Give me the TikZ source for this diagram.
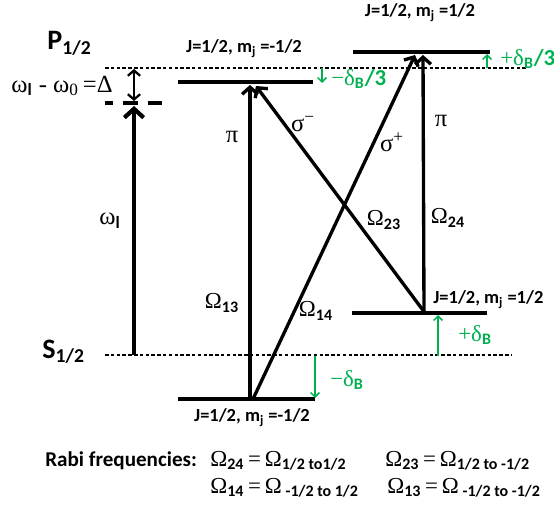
\documentclass[tikz,border=0pt]{standalone}
\usepackage{fontspec}
\setmainfont{Carlito}
\newfontfamily\grk{Liberation Serif}
\usetikzlibrary{arrows.meta}
\definecolor{zeeman}{RGB}{0,176,80}
\newcommand\lsub[1]{\textsubscript{\rmfamily\bfseries #1}}
\tikzset{
  level/.style={line width=2.4pt},
  ref/.style={line width=0.8pt, dash pattern=on 2pt off 1.3pt},
  trans/.style={line width=1.9pt, -{Straight Barb[length=4pt,width=9pt]}},
  zshift/.style={zeeman, line width=0.9pt, -{Straight Barb[length=2.5pt,width=5pt]}},
  lbl/.style={font=\bfseries\fontsize{10.5}{12}\selectfont, inner sep=0pt},
  greek/.style={font=\grk\fontsize{14}{16}\selectfont, inner sep=0pt},
  term/.style={font=\bfseries\fontsize{16}{18}\selectfont, inner sep=0pt, anchor=base west},
  zlbl/.style={greek, font=\grk\fontsize{13}{14}\selectfont, text=zeeman, anchor=west},
  rabi/.style={font=\grk\fontsize{13}{15}\selectfont, inner sep=0pt, anchor=base west},
}
\begin{document}
\begin{tikzpicture}[x=0.02cm, y=-0.02cm]
  \useasboundingbox (0,0) rectangle (554,506);
  % reference lines
  \coordinate (Pl) at (105,68);  \coordinate (Pr) at (528,68);
  \coordinate (Sl) at (105,355); \coordinate (Sr) at (512,355);
  \draw[ref] (Pl) -- (Pr);
  \draw[ref] (Sl) -- (Sr);
  \node[term] (P) at (47,50) {P\textsubscript{1/2}};
  \node[term] (S) at (42,358) {S\textsubscript{1/2}};
  % levels
  \coordinate (P1a) at (178,82);  \coordinate (P1b) at (313,82);
  \coordinate (P2a) at (353,52);  \coordinate (P2b) at (490,52);
  \coordinate (S1a) at (178,399); \coordinate (S1b) at (315,399);
  \coordinate (S2a) at (352,313); \coordinate (S2b) at (487,313);
  \draw[level] (P1a) -- (P1b);
  \draw[level] (P2a) -- (P2b);
  \draw[level] (S1a) -- (S1b);
  \draw[level] (S2a) -- (S2b);
  \node[lbl] (lP1) at (244,49) {J=1/2, m\textsubscript{j} =-1/2};
  \node[lbl] (lP2) at (420,13) {J=1/2, m\textsubscript{j} =1/2};
  \node[lbl] (lS1) at (252,418) {J=1/2, m\textsubscript{j} =-1/2};
  \node[lbl, anchor=west] (lS2) at (433,300) {J=1/2, m\textsubscript{j} =1/2};
  % laser
  \coordinate (V1) at (105,103); \coordinate (V2) at (163,103);
  \draw[line width=2.6pt, dash pattern=on 4.5pt off 5.7pt on 8.5pt off 5.7pt on 8pt off 20pt] (V1) -- (V2);
  \coordinate (d1) at (134,69); \coordinate (d2) at (134,101);
  \draw[line width=1.3pt, {Straight Barb[length=3pt,width=7pt]}-{Straight Barb[length=3pt,width=7pt]}] (d1) -- (d2);
  \coordinate (w1) at (134,355); \coordinate (w2) at (134,106);
  \draw[line width=2.4pt, -{Straight Barb[length=5pt,width=11pt]}] (w1) -- (w2);
  \node[greek, anchor=east] (det) at (113,86) {ω\lsub{l} - ω\textsubscript{0}\,=Δ};
  \node[greek] (wl) at (110,221) {ω\lsub{l}};
  % transitions
  \coordinate (a13) at (250,399); \coordinate (b13) at (250,85);
  \coordinate (a23) at (425,313); \coordinate (b23) at (256,86);
  \coordinate (a14) at (253,399); \coordinate (b14) at (415,55);
  \coordinate (a24) at (424,313); \coordinate (b24) at (423,55);
  \draw[trans] (a13) -- (b13);
  \draw[trans] (a23) -- (b23);
  \draw[trans] (a14) -- (b14);
  \draw[trans] (a24) -- (b24);
  \node[greek] (pi1) at (232,137) {π};
  \node[greek] (sm) at (303,124) {σ\textsuperscript{−}};
  \node[greek] (sp) at (392,142) {σ\textsuperscript{+}};
  \node[greek] (pi2) at (441,121) {π};
  \node[rabi, anchor=center] (O13) at (222,303) {Ω\lsub{13}};
  \node[rabi, anchor=center] (O23) at (384,220) {Ω\lsub{23}};
  \node[rabi, anchor=center] (O14) at (316,311) {Ω\lsub{14}};
  \node[rabi, anchor=center] (O24) at (448,218) {Ω\lsub{24}};
  % zeeman shifts
  \coordinate (z1a) at (322,68);  \coordinate (z1b) at (322,83);
  \coordinate (z2a) at (487,68);  \coordinate (z2b) at (487,54);
  \coordinate (z3a) at (315,356); \coordinate (z3b) at (315,398);
  \coordinate (z4a) at (438,356); \coordinate (z4b) at (438,315);
  \draw[zshift] (z1a) -- (z1b);
  \draw[zshift] (z2a) -- (z2b);
  \draw[zshift] (z3a) -- (z3b);
  \draw[zshift] (z4a) -- (z4b);
  \node[zlbl] (zl1) at (331,79) {−δ\lsub{B}\textbf{\rmfamily/3}};
  \node[zlbl] (zl2) at (500,59) {+δ\lsub{B}\textbf{\rmfamily/3}};
  \node[zlbl] (zl3) at (330,380) {−δ\lsub{B}};
  \node[zlbl] (zl4) at (458,335) {+δ\lsub{B}};
  % rabi frequencies
  \node[font=\bfseries\fontsize{12}{14}\selectfont, inner sep=0pt, anchor=base west] (rf) at (45,466) {Rabi frequencies:};
  \node[rabi] (r24) at (210,466) {Ω\lsub{24}\,=\,Ω\lsub{1/2 to1/2}};
  \node[rabi] (r23) at (385,466) {Ω\lsub{23}\,=\,Ω\lsub{1/2 to -1/2}};
  \node[rabi] (r14) at (210,493) {Ω\lsub{14}\,=\,Ω\,\lsub{-1/2 to 1/2}};
  \node[rabi] (r13) at (387,493) {Ω\lsub{13}\,=\,Ω\,\lsub{-1/2 to -1/2}};
\end{tikzpicture}
\end{document}
